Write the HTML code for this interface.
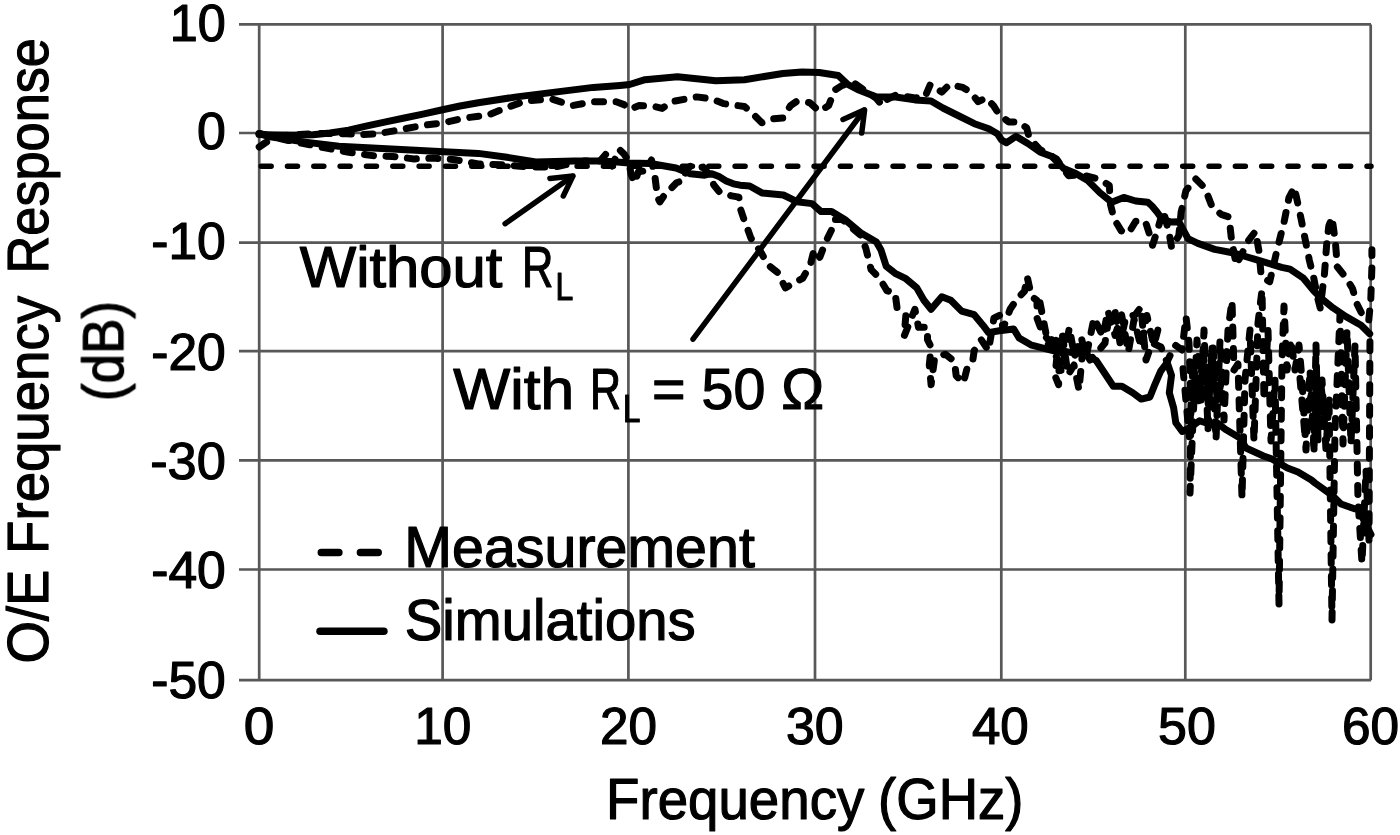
<!DOCTYPE html>
<html><head><meta charset="utf-8">
<style>
html,body{margin:0;padding:0;background:#fff;}
body{width:1400px;height:835px;overflow:hidden;}
svg{display:block;}
text{font-family:"Liberation Sans",sans-serif;fill:#000;stroke:#000;stroke-width:1.2px;stroke-linejoin:round;}
</style></head>
<body>
<svg width="1400" height="835" viewBox="0 0 1400 835">
<rect width="1400" height="835" fill="#fff"/>
<g id="grid" stroke="#585858" stroke-width="2.7" fill="none"><path d="M239 24.4H1371M239 133H1371M239 242.6H1371M239 351.1H1371M239 460.3H1371M239 569.5H1371M239 680.2H1371M259.2 24.4V680.2M442.6 24.4V680.2M628.4 24.4V680.2M815 24.4V680.2M1001.3 24.4V680.2M1185.3 24.4V680.2M1370.7 24.4V680.2"/></g>
<g id="dash3" stroke="#000" stroke-width="5.5" stroke-dasharray="10 16.33" stroke-linecap="round" fill="none">
<path d="M261.15 166.2H1371"/>
</g>
<g id="curves" fill="none" stroke="#000" stroke-width="7" stroke-linejoin="round" stroke-linecap="round">
<polyline points="259.0,134.5 274.0,135.0 294.0,135.3 313.0,134.8 330.0,133.0 348.6,130.2 367.1,125.9 385.7,121.8 404.3,118.0 422.9,114.1 441.4,110.0 460.0,106.0 478.3,102.7 516.6,96.9 555.0,92.1 593.3,87.4 620.0,85.4 629.6,84.5 645.0,79.7 677.5,76.8 715.8,80.7 744.5,79.7 782.8,73.5 802.0,72.0 819.2,72.5 838.3,75.5 847.9,84.5 857.5,89.4 876.6,97.0 895.8,97.0 914.9,99.9 931.0,101.0 942.9,108.0 960.0,116.5 974.4,123.7 988.8,128.8 997.4,133.8 1001.6,139.9 1006.3,142.8 1015.9,136.3 1027.9,143.5 1039.9,151.9 1051.9,156.6 1063.8,168.6 1075.8,173.4 1087.8,180.6 1099.8,192.6 1111.7,202.2 1123.7,197.4 1135.7,201.0 1147.7,202.2 1152.0,206.0 1157.0,212.0 1162.0,219.0 1171.0,222.0 1179.0,221.8 1188.0,238.6 1197.9,243.4 1214.7,249.4 1233.8,253.0 1257.8,260.2 1281.7,267.3 1290.0,269.1 1303.0,277.8 1313.7,290.7 1322.3,299.3 1333.1,307.9 1346.0,316.6 1361.1,325.2 1369.7,333.8"/>
<polyline points="259.0,133.5 271.8,137.0 305.3,142.1 338.8,146.3 372.4,148.0 405.9,149.7 439.4,151.4 478.3,153.4 507.0,157.3 535.8,162.0 574.1,161.1 600.0,161.1 614.4,161.7 628.7,162.9 650.3,163.5 676.0,168.0 690.3,173.7 704.7,175.2 711.8,173.7 719.0,176.6 726.2,180.9 733.4,183.8 740.0,185.2 749.7,186.0 762.4,193.1 783.4,195.0 796.9,201.7 812.0,203.6 821.1,211.6 831.6,211.6 844.8,219.5 860.6,232.7 876.4,242.0 881.0,250.0 886.2,266.2 895.1,273.3 905.9,278.7 916.7,287.7 923.9,300.3 931.1,309.3 941.8,296.7 950.8,300.3 961.6,311.1 974.2,314.7 983.1,325.4 988.5,332.6 999.3,330.8 1013.7,329.0 1019.1,338.0 1031.6,345.2 1046.0,348.8 1060.0,352.4 1065.9,351.7 1083.1,353.9 1096.0,360.3 1104.7,373.3 1113.3,386.2 1121.9,386.2 1132.7,392.7 1141.3,399.1 1149.9,397.0 1154.2,386.2 1160.7,371.1 1167.2,362.5 1171.5,375.4 1169.3,392.7 1173.6,407.8 1175.8,422.8 1182.2,431.5 1190.9,427.2 1199.5,420.7 1212.4,425.0 1216.0,422.0 1225.3,429.3 1240.0,437.9 1246.0,448.0 1263.5,456.0 1272.0,459.0 1287.4,468.0 1298.0,472.0 1311.4,480.0 1315.0,483.0 1332.6,495.7 1341.0,504.0 1354.5,508.7 1358.0,508.6 1371.0,534.5"/>
<g stroke-dasharray="9 12.5">
<polyline points="259.2,147.0 265.0,143.0 271.8,138.8 288.5,135.0 322.0,133.5 347.0,133.8 362.3,134.6 377.4,133.8 400.8,129.6 422.6,125.4 442.8,122.9 464.9,118.0 487.9,115.1 507.0,107.5 526.2,100.8 551.1,98.9 572.2,105.6 593.3,101.7 616.2,101.7 624.0,104.6 629.6,109.4 639.2,105.6 654.5,106.5 662.1,108.4 671.7,101.7 696.6,96.9 712.0,98.9 723.4,103.6 744.5,106.5 754.1,115.1 761.8,122.8 771.3,119.0 782.8,118.0 790.5,105.6 796.2,101.7 803.8,101.7 809.7,102.7 819.2,111.3 828.7,105.6 834.5,90.2 842.1,85.4 853.6,82.6 867.0,92.0 876.0,98.0 882.4,105.6 886.0,100.0 895.8,95.0 914.9,97.9 925.0,97.0 930.3,84.5 941.8,92.1 949.4,84.5 962.8,87.4 970.5,92.1 978.2,101.7 985.8,97.9 993.5,105.6 999.2,114.7 1008.7,121.9 1018.3,121.9 1026.7,127.9 1029.1,137.5 1039.9,149.5 1056.6,159.0 1068.6,175.8 1080.6,174.6 1099.8,179.4 1109.3,185.4 1110.5,204.6 1114.1,218.9 1121.3,230.9 1128.5,233.3 1135.7,221.3 1145.3,221.3 1150.0,235.7 1152.5,245.3 1157.2,230.9 1163.2,210.5 1169.2,233.3 1171.6,247.7 1178.8,235.7 1181.1,212.3 1185.9,190.7 1195.5,178.7 1205.1,188.3 1212.3,207.5 1221.8,214.7 1229.0,217.0 1231.4,238.6 1236.2,264.9 1241.0,255.4 1248.2,241.0 1255.4,231.4 1258.9,250.6 1261.3,276.9 1269.7,281.7 1276.9,250.6 1284.1,221.8 1288.9,197.9 1294.3,187.2 1300.8,217.4 1305.1,239.0 1309.4,260.5 1313.7,277.8 1318.0,299.3 1320.2,308.0 1324.5,273.4 1326.6,245.4 1328.8,226.0 1332.0,217.4 1335.3,241.1 1337.4,267.0 1346.0,277.8 1352.5,288.5 1356.8,303.6 1363.3,316.6 1368.7,320.9 1370.8,299.3 1371.9,267.0 1371.9,249.7"/>
<polyline points="259.2,133.5 288.5,140.5 330.4,148.9 348.9,152.2 372.4,155.6 392.5,156.4 414.3,158.9 432.7,158.1 455.0,159.7 478.3,164.0 507.0,165.0 528.0,166.9 555.0,166.9 583.7,161.1 600.0,161.1 606.0,154.0 612.0,166.0 619.2,149.2 624.0,154.0 628.7,161.1 631.1,174.3 634.7,182.7 638.3,171.9 645.5,170.7 651.5,160.0 655.1,177.9 657.5,197.1 659.9,201.9 664.7,194.7 669.5,189.9 676.6,182.7 683.8,180.3 686.2,169.5 691.0,165.9 695.8,168.3 703.0,167.1 710.2,175.5 713.8,185.1 719.8,192.3 731.7,195.9 738.9,197.1 740.1,207.8 743.7,218.6 747.3,228.2 750.9,238.1 760.5,251.5 768.1,264.9 777.7,272.6 785.4,287.9 795.0,282.2 802.6,278.4 810.3,264.9 814.1,249.6 819.8,257.3 825.6,242.0 831.3,230.5 834.2,219.5 842.2,219.5 860.6,235.3 865.9,248.5 871.1,269.6 879.0,277.5 886.9,290.6 895.1,293.1 897.0,307.5 905.9,314.7 904.1,336.2 914.9,309.3 918.5,327.2 927.5,327.2 927.5,339.8 931.1,347.0 929.3,364.9 931.1,384.7 934.7,357.8 945.4,354.2 954.4,361.3 956.2,375.7 963.4,382.9 967.0,368.5 972.4,363.1 974.2,350.6 981.3,339.8 988.5,350.6 993.9,318.2 1001.1,314.7 1002.9,329.0 1010.1,309.3 1017.3,298.5 1024.5,291.3 1027.2,276.9 1031.6,296.7 1037.0,300.3 1037.0,318.2 1042.4,332.6 1049.6,341.6 1056.8,357.8 1055.0,375.7 1058.6,384.7 1059.4,353.9 1062.0,332.0 1068.0,375.0 1074.0,365.0 1079.0,390.0 1083.0,347.0 1090.0,360.0 1096.0,354.0 1105.0,343.0 1109.0,317.0 1115.0,311.0 1120.0,343.0 1126.0,317.0 1135.0,315.0 1141.0,307.0 1143.0,330.0 1146.0,360.0 1152.0,343.0 1161.0,347.0 1167.0,362.0 1175.0,345.0 1182.0,350.0 1186.0,317.0 1189.0,343.0 1191.0,400.0 1190.0,493.0 1193.0,420.0 1197.0,340.0 1201.0,400.0 1204.0,330.0 1208.0,430.0 1212.0,350.0 1216.0,440.0 1220.0,340.0 1224.0,420.0 1228.0,330.0 1232.0,301.0 1234.0,370.0 1238.0,364.0 1242.0,498.0 1245.0,380.0 1250.0,330.0 1254.0,441.0 1258.0,323.0 1262.0,290.0 1264.0,400.0 1268.0,330.0 1271.0,441.0 1275.0,380.0 1279.0,604.0 1282.0,360.0 1284.0,306.0 1287.0,370.0 1291.0,340.0 1295.0,370.0 1299.0,345.0 1302.0,380.0 1306.0,450.0 1310.0,370.0 1314.0,445.0 1316.0,345.0 1318.0,440.0 1322.0,380.0 1326.0,450.0 1329.0,400.0 1332.0,620.0 1335.0,430.0 1340.0,315.0 1343.0,444.0 1347.0,330.0 1351.0,444.0 1355.0,345.0 1358.0,500.0 1362.0,563.0 1366.0,470.0 1369.0,540.0 1370.0,330.0"/>
<polyline points="1040.0,302.7 1048.5,346.4 1054.4,334.1 1061.2,371.5 1069.4,327.7 1074.5,356.8 1081.2,337.3 1086.1,357.1 1094.0,317.9 1102.9,336.6 1107.9,310.8 1115.1,335.5 1121.6,314.9 1128.3,352.1 1134.1,319.2 1141.1,347.4 1146.9,315.5 1153.8,345.5 1158.8,326.3"/><polyline points="1183.0,368.8 1189.3,436.8 1193.1,362.7 1198.8,402.9 1203.2,350.7 1208.6,408.0 1212.5,341.8 1217.2,400.5 1223.7,370.9"/><polyline points="1300.0,378.6 1305.1,436.7 1310.4,392.5 1314.1,449.5 1320.2,379.3 1324.4,414.2 1329.3,400.1"/>

</g>
</g>
<g id="legend" stroke="#000" stroke-width="7.5" stroke-linecap="round">
<path d="M321.3 552.4H338.9M360.4 552.4H378.2"/>
<path d="M320 631.2H383.9"/>
</g>
<g id="arrows" stroke="#000" stroke-width="5.5" stroke-linecap="round" stroke-linejoin="round" fill="none">
<path d="M505.1 223.7L572.5 176.3"/>
<path d="M549.9 178.4L573 175.9L563.3 196"/>
<path d="M693 339.2L864 110.5"/>
<path d="M843 119.5L864.6 109.8L861.7 133.1"/>
</g>
<g id="texts" style="filter:grayscale(1)">
<text x="169.76" y="41.00" font-size="51" textLength="56.00" lengthAdjust="spacingAndGlyphs">10</text>
<text x="196.97" y="149.20" font-size="51" textLength="28.85" lengthAdjust="spacingAndGlyphs">0</text>
<text x="151.21" y="259.00" font-size="51" textLength="74.61" lengthAdjust="spacingAndGlyphs">-10</text>
<text x="151.21" y="370.40" font-size="51" textLength="74.61" lengthAdjust="spacingAndGlyphs">-20</text>
<text x="150.17" y="479.30" font-size="51" textLength="75.67" lengthAdjust="spacingAndGlyphs">-30</text>
<text x="151.21" y="587.90" font-size="51" textLength="74.61" lengthAdjust="spacingAndGlyphs">-40</text>
<text x="151.21" y="697.50" font-size="51" textLength="74.61" lengthAdjust="spacingAndGlyphs">-50</text>
<text x="243.65" y="744.00" font-size="51" textLength="30.60" lengthAdjust="spacingAndGlyphs">0</text>
<text x="414.29" y="744.00" font-size="51" textLength="57.12" lengthAdjust="spacingAndGlyphs">10</text>
<text x="600.02" y="744.00" font-size="51" textLength="56.98" lengthAdjust="spacingAndGlyphs">20</text>
<text x="786.02" y="744.00" font-size="51" textLength="57.70" lengthAdjust="spacingAndGlyphs">30</text>
<text x="971.93" y="744.00" font-size="51" textLength="56.87" lengthAdjust="spacingAndGlyphs">40</text>
<text x="1158.02" y="744.00" font-size="51" textLength="57.81" lengthAdjust="spacingAndGlyphs">50</text>
<text x="1341.99" y="744.00" font-size="51" textLength="57.11" lengthAdjust="spacingAndGlyphs">60</text>
<text x="606.12" y="818.50" font-size="57.5" textLength="258.19" lengthAdjust="spacingAndGlyphs">Frequency</text>
<text x="878.12" y="818.50" font-size="57.5" textLength="145.36" lengthAdjust="spacingAndGlyphs">(GHz)</text>
<text transform="translate(48.30 661.60) rotate(-90)" x="-1.99" y="0" font-size="57.5" textLength="94.03" lengthAdjust="spacingAndGlyphs">O/E</text>
<text transform="translate(48.30 550.00) rotate(-90)" x="-3.88" y="0" font-size="57.5" textLength="257.88" lengthAdjust="spacingAndGlyphs">Frequency</text>
<text transform="translate(48.30 269.70) rotate(-90)" x="-3.69" y="0" font-size="57.5" textLength="235.31" lengthAdjust="spacingAndGlyphs">Response</text>
<text transform="translate(123.20 398.40) rotate(-90)" x="-2.69" y="0" font-size="57.5" textLength="100.18" lengthAdjust="spacingAndGlyphs">(dB)</text>
<text x="404.30" y="566.50" font-size="57.5" textLength="350.52" lengthAdjust="spacingAndGlyphs">Measurement</text>
<text x="404.84" y="639.80" font-size="57.5" textLength="290.89" lengthAdjust="spacingAndGlyphs">Simulations</text>
<text x="299.74" y="286.90" font-size="57.5" textLength="202.70" lengthAdjust="spacingAndGlyphs">Without</text>
<text x="522.04" y="286.90" font-size="57.5" textLength="31.38" lengthAdjust="spacingAndGlyphs">R</text>
<text x="555.38" y="300.00" font-size="39" textLength="17.79" lengthAdjust="spacingAndGlyphs" style="opacity:0.999">L</text>
<text x="453.23" y="409.00" font-size="57.5" textLength="120.79" lengthAdjust="spacingAndGlyphs">With</text>
<text x="589.98" y="409.00" font-size="57.5" textLength="31.02" lengthAdjust="spacingAndGlyphs">R</text>
<text x="623.03" y="421.50" font-size="39" textLength="17.41" lengthAdjust="spacingAndGlyphs" style="opacity:0.999">L</text>
<text x="652.10" y="409.00" font-size="57.5" textLength="172.07" lengthAdjust="spacingAndGlyphs">= 50 Ω</text>
</g>
</svg>
</body></html>
